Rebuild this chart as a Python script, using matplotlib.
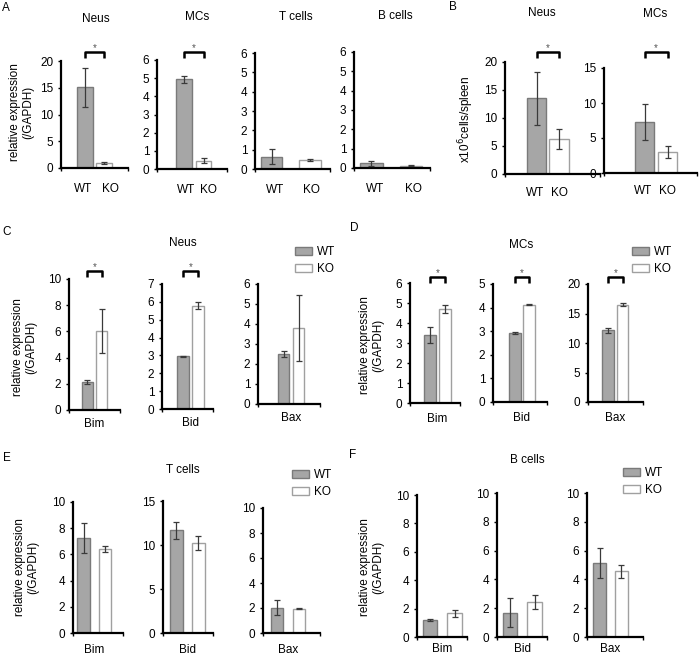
import matplotlib
matplotlib.use('Agg')
import matplotlib.pyplot as plt
import matplotlib.transforms as mtrans
from matplotlib.patches import Patch

# ---- data ----
# A: relative expression (/GAPDH) per cell type
a_groups = ['Neus', 'MCs', 'T cells', 'B cells']
a_wt = [15.05, 4.95, 0.64, 0.24]
a_wt_err = [3.7, 0.19, 0.38, 0.13]
a_ko = [0.94, 0.46, 0.45, 0.12]
a_ko_err = [0.12, 0.13, 0.05, 0.03]
a_ymax = [20, 6, 6, 6]
a_ystep = [5, 1, 1, 1]
a_sig = [True, True, False, False]

# B: x10^6 cells/spleen
b_groups = ['Neus', 'MCs']
b_wt = [13.5, 7.3]
b_wt_err = [4.8, 2.6]
b_ko = [6.2, 3.0]
b_ko_err = [1.8, 0.9]
b_ymax = [20, 15]
b_ystep = [5, 5]

genes = ['Bim', 'Bid', 'Bax']

# C: Neus
c_wt = [2.12, 2.95, 2.52]
c_wt_err = [0.16, 0.03, 0.15]
c_ko = [6.05, 5.78, 3.8]
c_ko_err = [1.67, 0.19, 1.67]
c_ymax = [10, 7, 6]
c_ystep = [2, 1, 1]
c_sig = [True, True, False]

# D: MCs
d_wt = [3.4, 2.91, 12.15]
d_wt_err = [0.38, 0.04, 0.45]
d_ko = [4.69, 4.12, 16.5]
d_ko_err = [0.19, 0.03, 0.25]
d_ymax = [6, 5, 20]
d_ystep = [1, 1, 5]
d_sig = [True, True, True]

# E: T cells
e_wt = [7.25, 11.7, 2.04]
e_wt_err = [1.15, 0.97, 0.63]
e_ko = [6.39, 10.2, 1.96]
e_ko_err = [0.22, 0.8, 0.03]
e_ymax = [10, 15, 10]
e_ystep = [2, 5, 2]

# F: B cells
f_wt = [1.18, 1.69, 5.12]
f_wt_err = [0.06, 1.03, 1.05]
f_ko = [1.67, 2.43, 4.58]
f_ko_err = [0.26, 0.47, 0.45]
f_ymax = [10, 10, 10]
f_ystep = [2, 2, 2]

# ---- style ----
W, H = 700, 657
plt.rcParams['font.family'] = ['Liberation Sans', 'DejaVu Sans']
plt.rcParams['font.size'] = 8

WT_FACE, WT_EDGE = '#a6a6a6', '#7a7a7a'
KO_FACE, KO_EDGE = '#ffffff', '#a0a0a0'

fig = plt.figure(figsize=(7, 6.57), dpi=100)


def px_axes(box):
    left, right, top, bottom = box
    return fig.add_axes([left / W, 1 - bottom / H, (right - left) / W, (bottom - top) / H])


def draw(ax, wt, wt_err, ko, ko_err, ymax, ystep, xlim, width,
         ticks, ticklabels, pad):
    ax.bar([0, 1], [wt, ko], width=width, color=[WT_FACE, KO_FACE],
           edgecolor=[WT_EDGE, KO_EDGE], linewidth=1, zorder=2)
    ax.errorbar([0, 1], [wt, ko], yerr=[wt_err, ko_err], fmt='none',
                ecolor='#3a3a3a', elinewidth=0.9, capsize=2.5, capthick=0.9,
                zorder=3)
    ax.set_xlim(*xlim)
    ax.set_ylim(0, ymax)
    ax.set_yticks(range(0, ymax + 1, ystep))
    ax.set_xticks(ticks)
    ax.set_xticklabels(ticklabels)
    ax.set_xticks(list(xlim), minor=True)
    for s in ['top', 'right']:
        ax.spines[s].set_visible(False)
    for s in ['left', 'bottom']:
        ax.spines[s].set_linewidth(1.6)
        ax.spines[s].set_color('black')
    ax.tick_params(axis='y', direction='out', length=2.5, width=1, pad=3,
                   labelsize=8.5)
    ax.tick_params(axis='x', which='major', length=0, pad=pad, labelsize=8.5)
    ax.tick_params(axis='x', which='minor', direction='out', length=2.5, width=1)
    ax.patch.set_alpha(0)


def sig(ax, y_px):
    tr = mtrans.blended_transform_factory(ax.transData, fig.transFigure)
    y0 = 1 - y_px / H
    y1 = 1 - (y_px + 6) / H
    ax.plot([0, 0, 1, 1], [y1, y0, y0, y1], transform=tr, color='black',
            lw=1.8, clip_on=False, solid_capstyle='butt')
    ax.text(0.5, 1 - (y_px - 4) / H, '*', transform=tr, ha='center',
            va='center', fontsize=7, color='#555555')


def legend(x_px, y_px):
    fig.legend(handles=[Patch(facecolor=WT_FACE, edgecolor=WT_EDGE),
                        Patch(facecolor=KO_FACE, edgecolor=KO_EDGE)],
               labels=['WT', 'KO'], loc='upper left',
               bbox_to_anchor=(x_px / W, 1 - y_px / H), frameon=False,
               fontsize=8.5, handlelength=1.4, handleheight=0.6,
               labelspacing=0.42, handletextpad=0.45, borderpad=0,
               borderaxespad=0)


def ylab(x_px, y_px, text):
    fig.text(x_px / W, 1 - y_px / H, text, rotation=90, ha='center',
             va='center', fontsize=8.5, linespacing=1.15)


def ftext(x_px, y_px, text, **kw):
    fig.text(x_px / W, 1 - y_px / H, text, ha='center', va='center', **kw)


# ---- panel A ----
a_boxes = [(61, 128, 61, 168), (157, 227, 60, 169),
           (255, 330, 53, 169), (354, 430, 52, 168)]
a_xlims = [(-1.30, 2.32), (-1.38, 2.2), (-0.43, 1.52), (-0.44, 1.48)]
a_widths = [0.86, 0.8, 0.55, 0.57]
a_ticks = [[-0.1, 1.35], [0.12, 1.23], [0.09, 1.04], [0.09, 1.05]]
a_title_xy = [(96, 19), (197, 17), (296, 17), (395, 16)]
for i in range(4):
    ax = px_axes(a_boxes[i])
    draw(ax, a_wt[i], a_wt_err[i], a_ko[i], a_ko_err[i], a_ymax[i],
         a_ystep[i], a_xlims[i], a_widths[i], a_ticks[i], ['WT', 'KO'], 11)
    if a_sig[i]:
        sig(ax, 52)
    ftext(*a_title_xy[i], a_groups[i], fontsize=8.5)
ylab(22, 112, 'relative expression\n(/GAPDH)')
ftext(6, 8, 'A', fontsize=8.5)

# ---- panel B ----
b_boxes = [(505, 600, 62, 174), (604, 697, 68, 173)]
b_xlims = [(-1.4, 2.82), (-1.76, 2.28)]
b_widths = [0.87, 0.83]
b_title_xy = [(542, 13), (655, 14)]
for i in range(2):
    ax = px_axes(b_boxes[i])
    draw(ax, b_wt[i], b_wt_err[i], b_ko[i], b_ko_err[i], b_ymax[i],
         b_ystep[i], b_xlims[i], b_widths[i], [-0.05, 1.0], ['WT', 'KO'], 9)
    sig(ax, 52)
    ftext(*b_title_xy[i], b_groups[i], fontsize=8.5)
ylab(466, 119, r'x10$^6$cells/spleen')
ftext(453, 7, 'B', fontsize=8.5)

# ---- panels C-F ----
panels = [
    dict(letter='C', letter_xy=(7, 232), title='Neus', title_xy=(183, 243),
         wt=c_wt, wt_err=c_wt_err, ko=c_ko, ko_err=c_ko_err, ymax=c_ymax,
         ystep=c_ystep, sig=c_sig, sig_y=271, pad=6,
         boxes=[(69, 120, 279, 410), (162, 213, 284, 409), (258, 320, 284, 404)],
         xlims=[(-1.32, 2.32), (-1.43, 1.97), (-1.7, 2.43)],
         widths=[0.79, 0.8, 0.75], legend_xy=(295, 246), ylab_xy=(25, 347)),
    dict(letter='D', letter_xy=(354, 228), title='MCs', title_xy=(521, 245),
         wt=d_wt, wt_err=d_wt_err, ko=d_ko, ko_err=d_ko_err, ymax=d_ymax,
         ystep=d_ystep, sig=d_sig, sig_y=277, pad=7,
         boxes=[(410, 460, 283, 403), (493, 547, 284, 402), (588, 643, 284, 402)],
         xlims=[(-1.33, 2.0), (-1.57, 2.29), (-1.38, 2.41)],
         widths=[0.8, 0.85, 0.8], legend_xy=(632, 246), ylab_xy=(372, 345)),
    dict(letter='E', letter_xy=(7, 458), title='T cells', title_xy=(183, 470),
         wt=e_wt, wt_err=e_wt_err, ko=e_ko, ko_err=e_ko_err, ymax=e_ymax,
         ystep=e_ystep, sig=[False] * 3, sig_y=0, pad=8,
         boxes=[(73, 123, 502, 633), (163, 213, 501, 633), (263, 320, 508, 633)],
         xlims=[(-0.48, 1.80), (-0.61, 1.66), (-0.64, 1.95)],
         widths=[0.55, 0.57, 0.55], legend_xy=(292, 469), ylab_xy=(27, 567)),
    dict(letter='F', letter_xy=(353, 455), title='B cells', title_xy=(527, 460),
         wt=f_wt, wt_err=f_wt_err, ko=f_ko, ko_err=f_ko_err, ymax=f_ymax,
         ystep=f_ystep, sig=[False] * 3, sig_y=0, pad=4,
         boxes=[(417, 467, 495, 637), (497, 547, 493, 637), (587, 643, 493, 637)],
         xlims=[(-0.53, 1.51), (-0.53, 1.51), (-0.57, 1.98)],
         widths=[0.58, 0.58, 0.57], legend_xy=(623, 467), ylab_xy=(372, 567)),
]

for p in panels:
    for i in range(3):
        ax = px_axes(p['boxes'][i])
        draw(ax, p['wt'][i], p['wt_err'][i], p['ko'][i], p['ko_err'][i],
             p['ymax'][i], p['ystep'][i], p['xlims'][i], p['widths'][i],
             [0.5], [genes[i]], p['pad'])
        if p['sig'][i]:
            sig(ax, p['sig_y'])
    ftext(*p['title_xy'], p['title'], fontsize=8.5)
    ftext(*p['letter_xy'], p['letter'], fontsize=8.5)
    legend(*p['legend_xy'])
    ylab(*p['ylab_xy'], 'relative expression\n(/GAPDH)')

fig.savefig('out.png', dpi=100)
